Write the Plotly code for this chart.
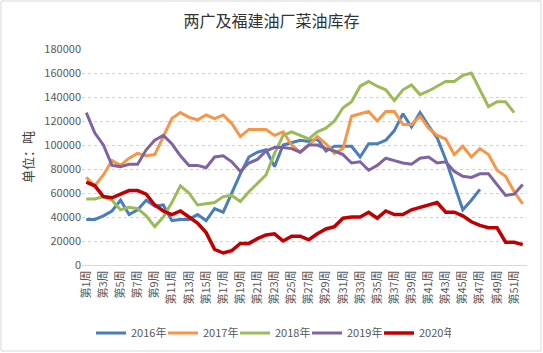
import plotly.graph_objects as go

weeks = [f"第{i}周" for i in range(1, 53)]
tick_weeks = [f"第{i}周" for i in range(1, 53, 2)]

s2016 = [38, 38, 41, 45, 54, 42, 46, 54, 49, 50, 37, 38, 38, 42, 37, 47, 44, 60, 76, 90,
         94, 96, 82, 100, 102, 104, 103, 105, 95, 99, 99, 99, 90, 101, 101, 104, 112, 126, 115, 127,
         116, 106, 88, 66, 46, 54, 63]
s2017 = [73, 66, 75, 87, 83, 89, 93, 91, 92, 107, 122, 127, 123, 121, 125, 122, 125, 118, 107, 113,
         113, 113, 108, 111, 100, 94, 100, 107, 101, 93, 97, 124, 126, 128, 120, 128, 128, 117, 117, 124,
         114, 108, 105, 92, 99, 90, 97, 92, 79, 74, 61, 51]
s2018 = [55, 55, 57, 54, 46, 48, 47, 41, 32, 40, 52, 66, 60, 50, 51, 52, 57, 58, 53, 61,
         68, 75, 93, 108, 111, 108, 105, 111, 114, 120, 131, 136, 149, 153, 149, 146, 137, 146, 150, 142,
         145, 149, 153, 153, 158, 160, 146, 132, 136, 136, 127]
s2019 = [127, 110, 100, 83, 82, 84, 84, 96, 104, 108, 101, 91, 83, 83, 81, 90, 91, 86, 78, 85,
         88, 95, 98, 98, 97, 94, 100, 100, 97, 95, 92, 85, 86, 79, 83, 89, 87, 85, 84, 89,
         90, 85, 86, 78, 74, 73, 76, 76, 67, 58, 59, 67]
s2020 = [69, 66, 57, 56, 59, 62, 62, 59, 50, 45, 42, 45, 40, 35, 27, 13, 10, 12, 18, 18,
         22, 25, 26, 20, 24, 24, 21, 26, 30, 32, 39, 40, 40, 44, 39, 45, 42, 42, 46, 48,
         50, 52, 44, 44, 41, 36, 33, 31, 31, 19, 19, 17]

series = [
    ("2016年", s2016, "#4A7EBB", 3),
    ("2017年", s2017, "#F79646", 3),
    ("2018年", s2018, "#9BBB59", 3),
    ("2019年", s2019, "#8064A2", 3),
    ("2020年", s2020, "#C00000", 3.5),
]

fig = go.Figure()
for name, vals, color, w in series:
    fig.add_trace(go.Scatter(
        x=weeks[:len(vals)], y=[v * 1000 for v in vals], name=name, mode="lines",
        line=dict(color=color, width=w)))

L, R, T, B = 82, 16, 49, 88
W, H = 543, 353
pw, ph = W - L - R, H - T - B

fig.update_layout(
    width=W, height=H,
    margin=dict(l=L, r=R, t=T, b=B),
    paper_bgcolor="white", plot_bgcolor="white",
    font=dict(family="Noto Sans CJK SC, Liberation Sans, sans-serif", color="#595959", size=11),
    title=dict(text="两广及福建油厂菜油库存", x=0.5, xanchor="center", y=1 - 21 / H, yanchor="middle",
               xref="container", yref="container",
               font=dict(size=16, color="#333333")),
    showlegend=True,
    legend=dict(orientation="h", xref="container", yref="container",
                x=271 / W, xanchor="center", y=1 - 333 / H, yanchor="middle",
                font=dict(size=11, color="#595959"), itemwidth=30, entrywidth=27,
                entrywidthmode="pixels", tracegroupgap=0),
    xaxis=dict(type="category", categoryorder="array", categoryarray=weeks,
               tickmode="array", tickvals=tick_weeks, ticktext=tick_weeks,
               tickangle=-90, showgrid=False, showline=True, linecolor="#D9D9D9",
               ticks="", tickfont=dict(size=11, color="#595959"), range=[-0.5, 51.5]),
    yaxis=dict(range=[0, 180000], dtick=20000, tickformat="d", showgrid=True,
               gridcolor="#D0D0D0", griddash="dot", gridwidth=1, zeroline=False,
               showline=False, ticks="", tickfont=dict(size=11, color="#595959")),
    annotations=[dict(text="单位：吨", textangle=-90, xref="paper", yref="paper",
                      x=(27 - L) / pw, y=0.5, xanchor="center", yanchor="middle",
                      showarrow=False, font=dict(size=13, color="#404040"))],
    shapes=[dict(type="rect", xref="paper", yref="paper",
                 x0=(1 - L) / pw, x1=(W - 2 - L) / pw,
                 y0=(265 - (H - 2)) / ph, y1=(265 - 1) / ph,
                 line=dict(color="#D9D9D9", width=1), fillcolor="rgba(0,0,0,0)", layer="below")],
)

fig.write_html("out.html")
